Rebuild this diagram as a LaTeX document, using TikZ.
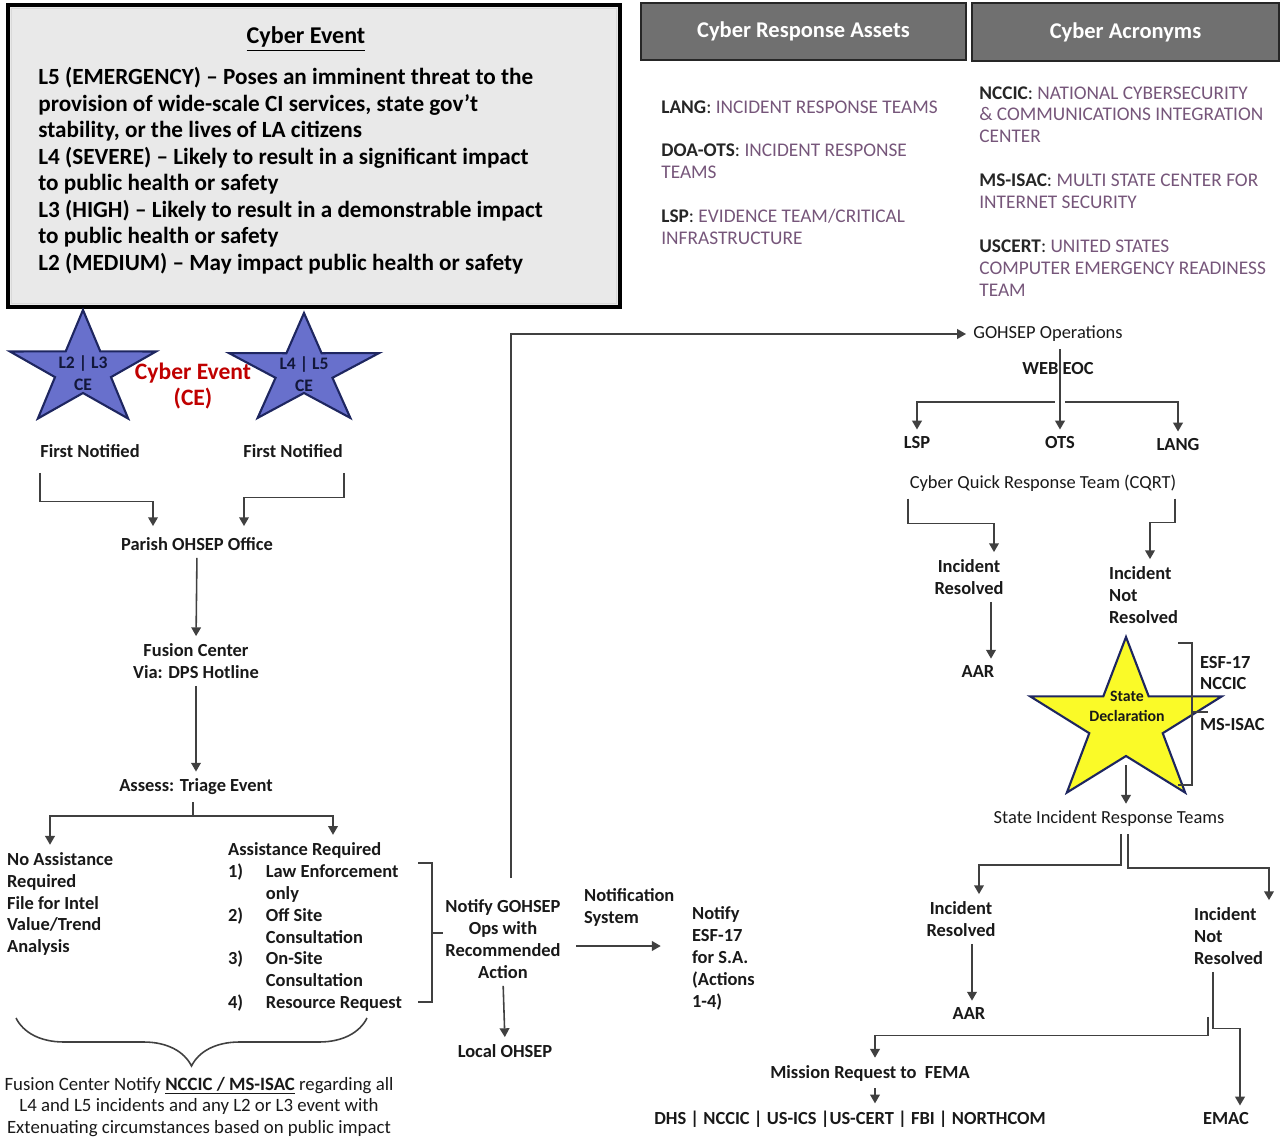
\documentclass[tikz,border=0pt]{standalone}
\usepackage{fontspec}
\setmainfont{Carlito}
\usepackage{tikz}
\usetikzlibrary{arrows.meta,positioning,calc,decorations.pathreplacing}

\definecolor{hdrgray}{RGB}{112,112,112}
\definecolor{acrpurple}{RGB}{118,86,122}
\definecolor{starblue}{RGB}{104,112,204}
\definecolor{starnavy}{RGB}{30,38,96}
\definecolor{staryellow}{RGB}{250,250,40}
\definecolor{cered}{RGB}{192,0,0}
\definecolor{wiregray}{RGB}{64,64,64}

\newcommand{\flowfont}{\fontsize{10.5}{12.5}\selectfont}

\begin{document}
\begin{tikzpicture}[
    x=0.02cm, y=-0.02cm,
    evframe/.style={draw=black, line width=2pt, fill=gray!17, minimum width=12.24cm, minimum height=6.04cm, inner sep=0pt},
    hdr/.style={draw=black!85, line width=1pt, fill=hdrgray, text=white, font=\fontsize{12.8}{15}\selectfont\bfseries, minimum height=1.15cm, inner sep=0pt},
    acr/.style={font=\fontsize{11}{12.5}\selectfont, align=left, anchor=north west, inner sep=0pt, text=black!85},
    lbl/.style={font=\flowfont\bfseries, align=center, inner sep=1pt, text=black!90},
    plainlbl/.style={font=\flowfont, align=center, inner sep=1pt, text=black!90},
    wire/.style={draw=wiregray, line width=0.9pt, -{Triangle[length=5pt,width=5.5pt]}, shorten >=3pt, shorten <=3pt},
    brk/.style={draw=wiregray, line width=0.9pt},
  ]
  \useasboundingbox (0,0) rectangle (1282,1139);

  \node[evframe] (evbox) at (314,156) {};
  \draw[white!70!gray, line width=0.6pt] ([shift={(5,5)}]evbox.north west) rectangle ([shift={(-5,-5)}]evbox.south east);
  \node[font=\fontsize{13.7}{15}\selectfont\bfseries] (evtitle) at (306,39) {\underline{Cyber Event}};
  \node[font=\fontsize{13.2}{15.1}\selectfont\bfseries, align=left, anchor=north west, inner sep=0pt] (evlevels) at (38,67)
    {L5 (EMERGENCY) -- Poses an imminent threat to the\\
     provision of wide-scale CI services, state gov’t\\
     stability, or the lives of LA citizens\\
     L4 (SEVERE) -- Likely to result in a significant impact\\
     to public health or safety\\
     L3 (HIGH) -- Likely to result in a demonstrable impact\\
     to public health or safety\\
     L2 (MEDIUM) -- May impact public health or safety};

  \node[hdr, minimum width=6.5cm] (assets) at (803.5,31.5) {Cyber Response Assets};
  \node[hdr, minimum width=6.14cm] (acronyms) at (1125.5,32) {Cyber Acronyms};
  \node[acr] (assetlist) at (661,100)
    {\textbf{LANG}: \textcolor{acrpurple}{INCIDENT RESPONSE TEAMS}\\[12.5pt]
     \textbf{DOA-OTS}: \textcolor{acrpurple}{INCIDENT RESPONSE}\\
     \textcolor{acrpurple}{TEAMS}\\[12.5pt]
     \textbf{LSP}: \textcolor{acrpurple}{EVIDENCE TEAM/CRITICAL}\\
     \textcolor{acrpurple}{INFRASTRUCTURE}};
  \node[acr] (acrolist) at (979,86)
    {\textbf{NCCIC}: \textcolor{acrpurple}{NATIONAL CYBERSECURITY}\\
     \textcolor{acrpurple}{\& COMMUNICATIONS INTEGRATION}\\
     \textcolor{acrpurple}{CENTER}\\[12.5pt]
     \textbf{MS-ISAC}: \textcolor{acrpurple}{MULTI STATE CENTER FOR}\\
     \textcolor{acrpurple}{INTERNET SECURITY}\\[12.5pt]
     \textbf{USCERT}: \textcolor{acrpurple}{UNITED STATES}\\
     \textcolor{acrpurple}{COMPUTER EMERGENCY READINESS}\\
     \textcolor{acrpurple}{TEAM}};

  \draw[fill=starblue, draw=starnavy, line width=1.2pt] plot[samples at={0,...,9}, variable=\k]
    ({83+1.28*ifthenelse(mod(\k,2)==0,60,23)*cos(-90+36*\k)}, {370+ifthenelse(mod(\k,2)==0,60,23)*sin(-90+36*\k)}) -- cycle;
  \draw[fill=starblue, draw=starnavy, line width=1.2pt] plot[samples at={0,...,9}, variable=\k]
    ({304+1.36*ifthenelse(mod(\k,2)==0,58,22)*cos(-90+36*\k)}, {371+ifthenelse(mod(\k,2)==0,58,22)*sin(-90+36*\k)}) -- cycle;
  \draw[fill=staryellow, draw=starnavy, line width=1.2pt] plot[samples at={0,...,9}, variable=\k]
    ({1126+1.17*ifthenelse(mod(\k,2)==0,86,33)*cos(-90+36*\k)}, {723+ifthenelse(mod(\k,2)==0,86,33)*sin(-90+36*\k)}) -- cycle;
  \coordinate (starC) at (1126,723);

  \node[lbl, font=\fontsize{10}{12.5}\selectfont\bfseries, text=starnavy!60!black] (starA) at (83,373) {L2 | L3\\CE};
  \node[lbl, font=\fontsize{10}{12.5}\selectfont\bfseries, text=starnavy!60!black] (starB) at (304,374) {L4 | L5\\CE};
  \node[lbl, font=\fontsize{13.4}{15.3}\selectfont\bfseries, text=cered] (ce) at (193,386) {Cyber Event\\(CE)};

  \node[lbl] (fnA) at (90,451) {First Notified};
  \node[lbl] (fnB) at (293,451) {First Notified};
  \node[lbl] (parish) at (197,544) {Parish OHSEP Office};
  \node[lbl] (fusion) at (196,661) {Fusion Center\\Via: DPS Hotline};
  \node[lbl] (triage) at (196,787) {Assess: Triage Event};
  \node[lbl, align=left, anchor=west] (noassist) at (5,904) {No Assistance\\Required\\File for Intel\\Value/Trend\\Analysis};
  \node[lbl, align=left, anchor=west] (assist) at (226,927)
    {Assistance Required\\
     \makebox[21.5pt][l]{1)}Law Enforcement\\
     \hspace*{21.5pt}only\\
     \makebox[21.5pt][l]{2)}Off Site\\
     \hspace*{21.5pt}Consultation\\
     \makebox[21.5pt][l]{3)}On-Site\\
     \hspace*{21.5pt}Consultation\\
     \makebox[21.5pt][l]{4)}Resource Request};
  \node[lbl] (notify) at (503,939) {Notify GOHSEP\\Ops with\\Recommended\\Action};
  \node[lbl] (localohsep) at (505,1051) {Local OHSEP};
  \node[lbl, align=left, anchor=west] (notesys) at (582,907) {Notification\\System};
  \node[lbl, align=left, anchor=west] (notifyesf) at (690,958) {Notify\\ESF-17\\for S.A.\\(Actions\\1-4)};
  \node[plainlbl, font=\fontsize{10.7}{12.5}\selectfont] (fusionnote) at (199,1107)
    {Fusion Center Notify \textbf{\underline{NCCIC / MS-ISAC}} regarding all\\
     L4 and L5 incidents and any L2 or L3 event with\\
     Extenuating circumstances based on public impact};

  \node[plainlbl] (gohsep) at (1048,334) {GOHSEP Operations};
  \node[lbl] (webeoc) at (1058,369) {WEB EOC};
  \node[lbl] (lsp) at (917,443) {LSP};
  \node[lbl] (ots) at (1060,443) {OTS};
  \node[lbl] (lang) at (1178,445) {LANG};
  \node[plainlbl] (cqrt) at (1043,483) {Cyber Quick Response Team (CQRT)};
  \node[lbl] (resA) at (969,577) {Incident\\Resolved};
  \node[lbl, align=left, anchor=west] (notresA) at (1107,595) {Incident\\Not\\Resolved};
  \node[lbl] (aarA) at (978,672) {AAR};
  \node[lbl, font=\fontsize{9}{11.3}\selectfont\bfseries] (stardecl) at (1127,706) {State\\Declaration};
  \node[lbl, align=left, anchor=west] (esfnccic) at (1198,673) {ESF-17\\NCCIC};
  \node[lbl, anchor=west] (msisac) at (1198,725) {MS-ISAC};
  \node[plainlbl] (sirt) at (1109,819) {State Incident Response Teams};
  \node[lbl] (resB) at (961,919) {Incident\\Resolved};
  \node[lbl, align=left, anchor=west] (notresB) at (1192,936) {Incident\\Not\\Resolved};
  \node[lbl] (aarB) at (969,1014) {AAR};
  \node[lbl] (mission) at (870,1073) {Mission Request to\ \ FEMA};
  \node[lbl] (federal) at (850,1119) {DHS | NCCIC | US-ICS |US-CERT | FBI | NORTHCOM};
  \node[lbl] (emac) at (1226,1119) {EMAC};

  \draw[wire] ([shift={(2,8)}]fnA.south west) -- ++(0,34) -| ([shift={(-44,-4)}]parish.north);
  \draw[wire] ([shift={(-1,8)}]fnB.south east) -- ++(0,30) -| ([shift={(47,-4)}]parish.north);
  \draw[wire] (parish.south) -- (fusion.north);
  \draw[wire] (fusion.south) -- (triage.north);
  \draw[wire] (triage.south -| 193,0) -- ++(0,19) -| (noassist.north -| 50,0);
  \draw[wire] (triage.south -| 193,0) -- ++(0,19) -| (assist.north -| 333,0);
  \draw[brk] (418,863) -- (432,863) -- (432,1002) -- (418,1002);
  \coordinate (assistbrk) at (432,933);
  \draw[brk] (assistbrk) -- (notify.west |- assistbrk);
  \draw[wire] (notify.south) -- (localohsep.north);
  \draw[wire] (notify.north -| 511,0) ++(0,-14) |- (gohsep.west);
  \draw[wire] ($(notify.east |- 0,946)+(8,0)$) -- ($(notifyesf.west |- 0,946)+(-24,0)$);
  \coordinate (braceL) at (16,1018);
  \coordinate (braceR) at (367,1018);
  \draw[brk, decorate, decoration={brace, amplitude=0.96cm}] (braceR) -- (braceL);

  \draw[wire] (gohsep.south -| ots.north) -- (ots.north);
  \draw[wire] (ots.north |- 0,402) -| (lsp.north);
  \draw[wire] (ots.north |- 0,402) -| (lang.north);
  \draw[wire] (cqrt.south -| 908,0) -- ++(0,30) -| (resA.north -| 994,0);
  \draw[wire] (cqrt.south -| 1175,0) -- ++(0,29) -| (notresA.north -| 1150,0);
  \draw[wire] (resA.south -| 991,0) -- (aarA.north -| 991,0);
  \draw[brk] (1178,643) -- (1192,643) -- (1192,785) -- (1178,785);
  \draw[brk] (1192,712) -- (1208,712);
  \draw[wire] (starC) ++(0,37) -- (sirt.north -| starC);
  \draw[wire] (sirt.south -| 1121,0) -- ++(0,36) -| (resB.north -| 979,0);
  \draw[wire] (sirt.south -| 1128,0) -- ++(0,39) -| (notresB.north -| 1269,0);
  \draw[wire] (resB.south -| 972,0) -- (aarB.north -| 972,0);
  \draw[wire] (notresB.south -| 1213,0) -- ++(0,62) -| (emac.north -| 1240,0);
  \draw[wire] (notresB.south -| 1208,0) ++(0,45) -- ++(0,24) -| (mission.north -| 875,0);
  \draw[wire] (mission.south -| 875,0) -- (federal.north -| 875,0);
\end{tikzpicture}
\end{document}
